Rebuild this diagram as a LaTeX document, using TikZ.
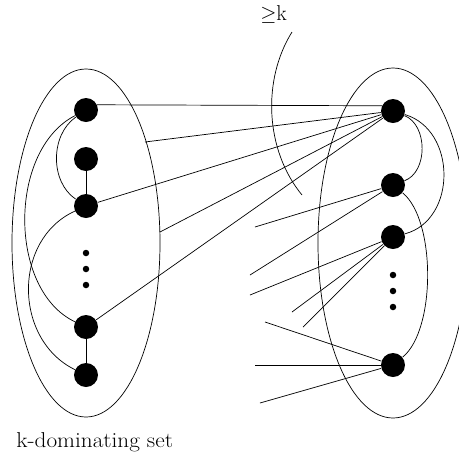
\documentclass[tikz,border=0pt]{standalone}
\usetikzlibrary{shapes.geometric}
\begin{document}
\begin{tikzpicture}[x=1pt,y=-1pt,line width=0.7pt,
  vtx/.style={circle,fill=black,inner sep=0pt,minimum size=24pt},
  smalldot/.style={circle,fill=black,inner sep=0pt,minimum size=6.5pt},
  setshape/.style={draw,ellipse,inner sep=0pt,minimum width=148pt,minimum height=348pt},
  lbl/.style={inner sep=0pt,anchor=base west,font=\fontsize{21.5}{26}\selectfont}]
\useasboundingbox (0,0) rectangle (459,459);
\clip (0,0) rectangle (459,459);
% sets
\node[setshape] (L) at (86,243) {};
\node[setshape,minimum width=150pt,minimum height=350pt] (R) at (393,243) {};
% left vertices
\node[vtx] (a1) at (86,110) {};
\node[vtx] (a2) at (86,159) {};
\node[vtx] (a3) at (86,206) {};
\node[smalldot] (ad1) at (86,253) {};
\node[smalldot] (ad2) at (86,269) {};
\node[smalldot] (ad3) at (86,285) {};
\node[vtx] (a4) at (86,327) {};
\node[vtx] (a5) at (86,375) {};
% right vertices
\node[vtx] (b1) at (393,111) {};
\node[vtx] (b2) at (393,185) {};
\node[vtx] (b3) at (393,237) {};
\node[smalldot] (bd1) at (393,275) {};
\node[smalldot] (bd2) at (393,291) {};
\node[smalldot] (bd3) at (393,307) {};
\node[vtx] (b4) at (393,365) {};
% free ends
\coordinate (e1) at (145,142);
\coordinate (e2) at (160,232);
\coordinate (f1) at (255,227);
\coordinate (f2) at (250,275);
\coordinate (f3) at (250,295);
\coordinate (f4) at (292,312);
\coordinate (f5) at (303,327);
\coordinate (g1) at (265,322);
\coordinate (g2) at (255,365);
\coordinate (g3) at (260,403);
\coordinate (k1) at (292,32);
\coordinate (k2) at (302,195);
% left edges
\draw (a2) -- (a3);
\draw (a4) -- (a5);
\draw (a1) .. controls (50,135) and (50,182) .. (a3);
\draw (a1) .. controls (8,150) and (8,290) .. (a4);
\draw (a3) .. controls (12,240) and (14,340) .. (a5);
% right edges
\draw (b1) .. controls (428,125) and (428,172) .. (b2);
\draw (b1) .. controls (457,130) and (457,220) .. (b3);
\draw (b2) .. controls (436,220) and (436,330) .. (b4);
% crossing edges
\draw (a1.25) -- (b1.155);
\draw (e1) -- (b1);
\draw (a3) -- (b1);
\draw (e2) -- (b1);
\draw (a4) -- (b1);
\draw (f1) -- (b2);
\draw (f2) -- (b2);
\draw (f3) -- (b3);
\draw (f4) -- (b3);
\draw (f5) -- (b3);
\draw (g1) -- (b4);
\draw (g2) -- (b4);
\draw (g3) -- (b4);
% >= k brace curve
\draw (k1) .. controls (262,80) and (265,150) .. (k2);
\node[lbl] (klab) at (260,20) {$\geq$k};
\node[lbl,xscale=1.08] (setlab) at (16,447) {k-dominating set};
\end{tikzpicture}
\end{document}
